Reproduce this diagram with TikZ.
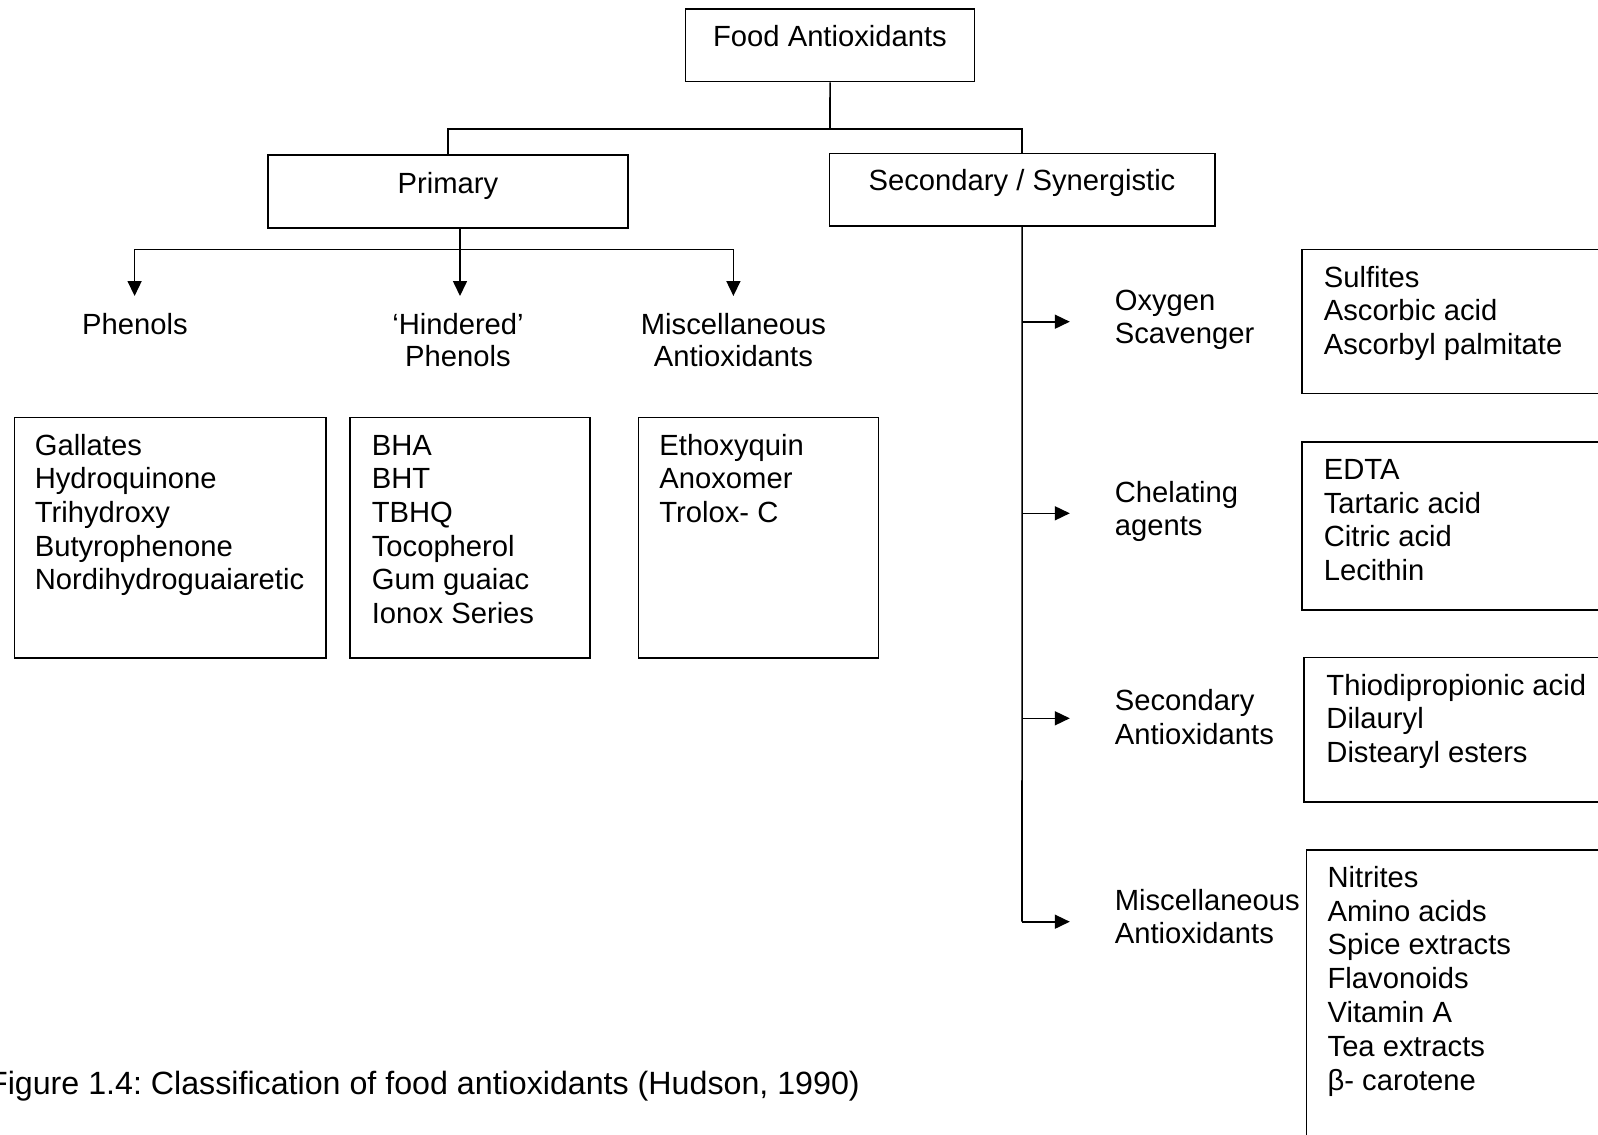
\documentclass[tikz,border=0pt]{standalone}
\usepackage{fontspec}
\setmainfont{Liberation Sans}
\usetikzlibrary{arrows.meta,fit}
\begin{document}
\begin{tikzpicture}[x=0.5pt,y=-0.5pt,
  box/.style={draw, line width=0.8pt, inner sep=0pt, rectangle},
  txt/.style={inner sep=0pt, font=\fontsize{14.6}{16.8}\selectfont},
  captxt/.style={inner sep=0pt, font=\fontsize{16.1}{18.5}\selectfont\frenchspacing},
  conn/.style={line width=0.8pt},
  arr/.style={line width=0.8pt, -{Triangle[length=7.5pt,width=7pt]}}]
\useasboundingbox (0,0) rectangle (1598,1134);
\clip (0,0) rectangle (1598,1134);

% ---- top level boxes
\node[box, fit={(685.6,9.3) (974.5,81.7)}] (food) {};
\node[txt, anchor=base] (foodt) at (830,46.7) {Food Antioxidants};
\node[box, fit={(267.9,155.3) (628.2,228)}] (prim) {};
\node[txt, anchor=base] (primt) at (448,194) {Primary};
\node[box, fit={(829.3,153.5) (1215,225.7)}] (sec) {};
\node[txt, anchor=base] (sect) at (1022,191) {Secondary / Synergistic};

% ---- connectors top
\coordinate (j1) at (830,129.3);
\draw[conn] (food.south) -- (j1);
\draw[conn] (prim.north) |- (sec.north |- j1) -- (sec.north);

% ---- primary branches
\coordinate (pb) at (460,228);
\coordinate (pj) at (460,249.3);
\coordinate (h1) at (134.6,249.3);
\coordinate (h3) at (733.4,249.3);
\coordinate (t1) at (134.6,296);
\coordinate (t2) at (460,296);
\coordinate (t3) at (733.4,296);
\draw[conn] (pb) -- (pj);
\draw[conn] (h1) -- (h3);
\draw[arr] (h1) -- (t1);
\draw[arr] (pj) -- (t2);
\draw[arr] (h3) -- (t3);

\node[txt, anchor=base] (phen) at (135,334.3) {Phenols};
\node[txt, anchor=base] (hin1) at (458,334.3) {‘Hindered’};
\node[txt, anchor=base] (hin2) at (458,366.7) {Phenols};
\node[txt, anchor=base] (mis1) at (733.4,334.3) {Miscellaneous};
\node[txt, anchor=base] (mis2) at (733.4,366.7) {Antioxidants};

% ---- primary lists
\node[box, fit={(14.4,417.3) (326,657.7)}] (b1) {};
\node[box, fit={(350.2,417.3) (590.1,657.7)}] (b2) {};
\node[box, fit={(638.4,417.3) (878.3,657.7)}] (b3) {};
\foreach \t [count=\i from 0] in {Gallates,Hydroquinone,Trihydroxy,Butyrophenone,Nordihydroguaiaretic}
  \node[txt, anchor=base west] (pa\i) at (34.4,{455+33.7*\i}) {\t};
\foreach \t [count=\i from 0] in {BHA,BHT,TBHQ,Tocopherol,Gum guaiac,Ionox Series}
  \node[txt, anchor=base west] (pb\i) at (371.4,{455+33.7*\i}) {\t};
\foreach \t [count=\i from 0] in {Ethoxyquin,Anoxomer,Trolox- C}
  \node[txt, anchor=base west] (pc\i) at (659,{455+33.7*\i}) {\t};

% ---- secondary branches
\coordinate (sv) at (1022,921.7);
\draw[conn] (sec.south) -- (sv);
\coordinate (s1) at (1022,321.7);
\coordinate (s2) at (1022,513.3);
\coordinate (s3) at (1022,718.3);
\coordinate (e1) at (1069.8,321.7);
\coordinate (e2) at (1069.8,513.3);
\coordinate (e3) at (1069.8,718.3);
\coordinate (e4) at (1069.8,921.7);
\draw[arr] (s1) -- (e1);
\draw[arr] (s2) -- (e2);
\draw[arr] (s3) -- (e3);
\draw[arr] (sv) -- (e4);

\node[txt, anchor=base west] (ox1) at (1114.4,310) {Oxygen};
\node[txt, anchor=base west] (ox2) at (1114.4,343.3) {Scavenger};
\node[txt, anchor=base west] (ch1) at (1114.4,502.7) {Chelating};
\node[txt, anchor=base west] (ch2) at (1114.4,535.5) {agents};
\node[txt, anchor=base west] (sa1) at (1114.4,710.7) {Secondary};
\node[txt, anchor=base west] (sa2) at (1114.4,744) {Antioxidants};
\node[txt, anchor=base west] (ma1) at (1114.4,910.7) {Miscellaneous};
\node[txt, anchor=base west] (ma2) at (1114.4,943.3) {Antioxidants};

% ---- secondary lists
\node[box, fit={(1302,249.3) (1640,393.3)}] (r1) {};
\node[box, fit={(1302,441.7) (1640,610)}] (r2) {};
\node[box, fit={(1304,657.3) (1640,801.7)}] (r3) {};
\node[box, fit={(1306.3,850) (1640,1160)}] (r4) {};
\foreach \t [count=\i from 0] in {Sulfites,Ascorbic acid,Ascorbyl palmitate}
  \node[txt, anchor=base west] (qa\i) at (1323.4,{287.3+33.4*\i}) {\t};
\foreach \t [count=\i from 0] in {EDTA,Tartaric acid,Citric acid,Lecithin}
  \node[txt, anchor=base west] (qb\i) at (1323.4,{479.3+33.7*\i}) {\t};
\foreach \t [count=\i from 0] in {Thiodipropionic acid,Dilauryl,Distearyl esters}
  \node[txt, anchor=base west] (qc\i) at (1326,{695+33.7*\i}) {\t};
\foreach \t [count=\i from 0] in {Nitrites,Amino acids,Spice extracts,Flavonoids,Vitamin A,Tea extracts,β- carotene}
  \node[txt, anchor=base west] (qd\i) at (1327.2,{887.3+33.8*\i}) {\t};

% ---- caption
\node[captxt, anchor=base west] (cap) at (-12.3,1094) {Figure 1.4: Classification of food antioxidants (Hudson, 1990)};
\end{tikzpicture}
\end{document}
